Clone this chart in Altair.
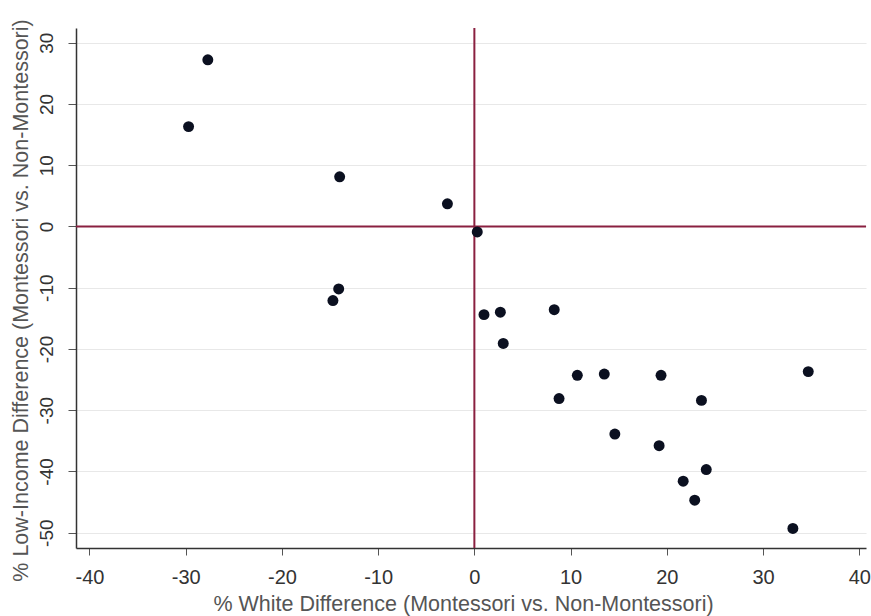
import altair as alt
import pandas as pd

white_diff = [-27.7, -29.7, -14.0, -2.8, 0.3, -14.1, -14.7, 1.0, 2.7, 8.3, 3.0,
              10.7, 13.5, 19.4, 34.7, 8.8, 23.6, 14.6, 19.2, 24.1, 21.7, 22.9, 33.1]
lowinc_diff = [27.2, 16.3, 8.1, 3.7, -0.9, -10.2, -12.1, -14.4, -14.0, -13.6, -19.1,
               -24.3, -24.1, -24.3, -23.7, -28.1, -28.4, -33.9, -35.8, -39.7, -41.6, -44.7, -49.3]
x_ticks = [-40, -30, -20, -10, 0, 10, 20, 30, 40]
y_ticks = [-50, -40, -30, -20, -10, 0, 10, 20, 30]
ref_zero = [0]

df = pd.DataFrame({"x": white_diff, "y": lowinc_diff})
ref = pd.DataFrame({"v": ref_zero})

FONT = "Liberation Sans"
RED = "#8a2040"

xscale = alt.Scale(domain=[-41.4, 40.7], nice=False, zero=False)
yscale = alt.Scale(domain=[-52.5, 32.4], nice=False, zero=False)

xaxis = alt.Axis(
    values=x_ticks, title="% White Difference (Montessori vs. Non-Montessori)",
    labelExpr="'' + datum.value",
    grid=False, domainColor="#333333", domainWidth=1.5, tickColor="#555555",
    tickSize=7, labelFontSize=20, labelFont=FONT, labelColor="#333333",
    labelPadding=28, labelBaseline="alphabetic", labelFlush=False, labelOverlap=False,
    titleFontSize=21.5, titleFont=FONT, titleColor="#555555", titleFontWeight="normal",
    titleBaseline="alphabetic", titleY=62, titleX=387, titleAlign="center",
)
yaxis = alt.Axis(
    values=y_ticks, title="% Low-Income Difference (Montessori vs. Non-Montessori)",
    labelExpr="'' + datum.value",
    grid=True, gridColor="#e8e8e8", gridWidth=1.2,
    domainColor="#333333", domainWidth=1.5, tickColor="#555555", tickSize=8,
    labelFontSize=19, labelFont=FONT, labelColor="#333333", labelAngle=270,
    labelAlign="center", labelBaseline="alphabetic", labelPadding=16,
    labelFlush=False, labelOverlap=False,
    titleFontSize=21.5, titleFont=FONT, titleColor="#555555", titleFontWeight="normal",
    titleAngle=270, titleBaseline="alphabetic", titleAlign="center",
    titleX=-49, titleY=272,
)

points = alt.Chart(df).mark_circle(size=120, color="#0b1020", opacity=1).encode(
    x=alt.X("x:Q", scale=xscale, axis=xaxis),
    y=alt.Y("y:Q", scale=yscale, axis=yaxis),
)
vline = alt.Chart(ref).mark_rule(color=RED, strokeWidth=2).encode(
    x=alt.X("v:Q", scale=xscale)
)
hline = alt.Chart(ref).mark_rule(color=RED, strokeWidth=2).encode(
    y=alt.Y("v:Q", scale=yscale)
)

chart = alt.layer(vline, hline, points).properties(
    width=790, height=520,
    autosize=alt.AutoSizeParams(type="none"),
    padding={"left": 76, "top": 28, "right": 5, "bottom": 68},
    background="white",
).configure_view(strokeWidth=0)

chart.save("out.html", embed_options={"renderer": "svg", "actions": False})
